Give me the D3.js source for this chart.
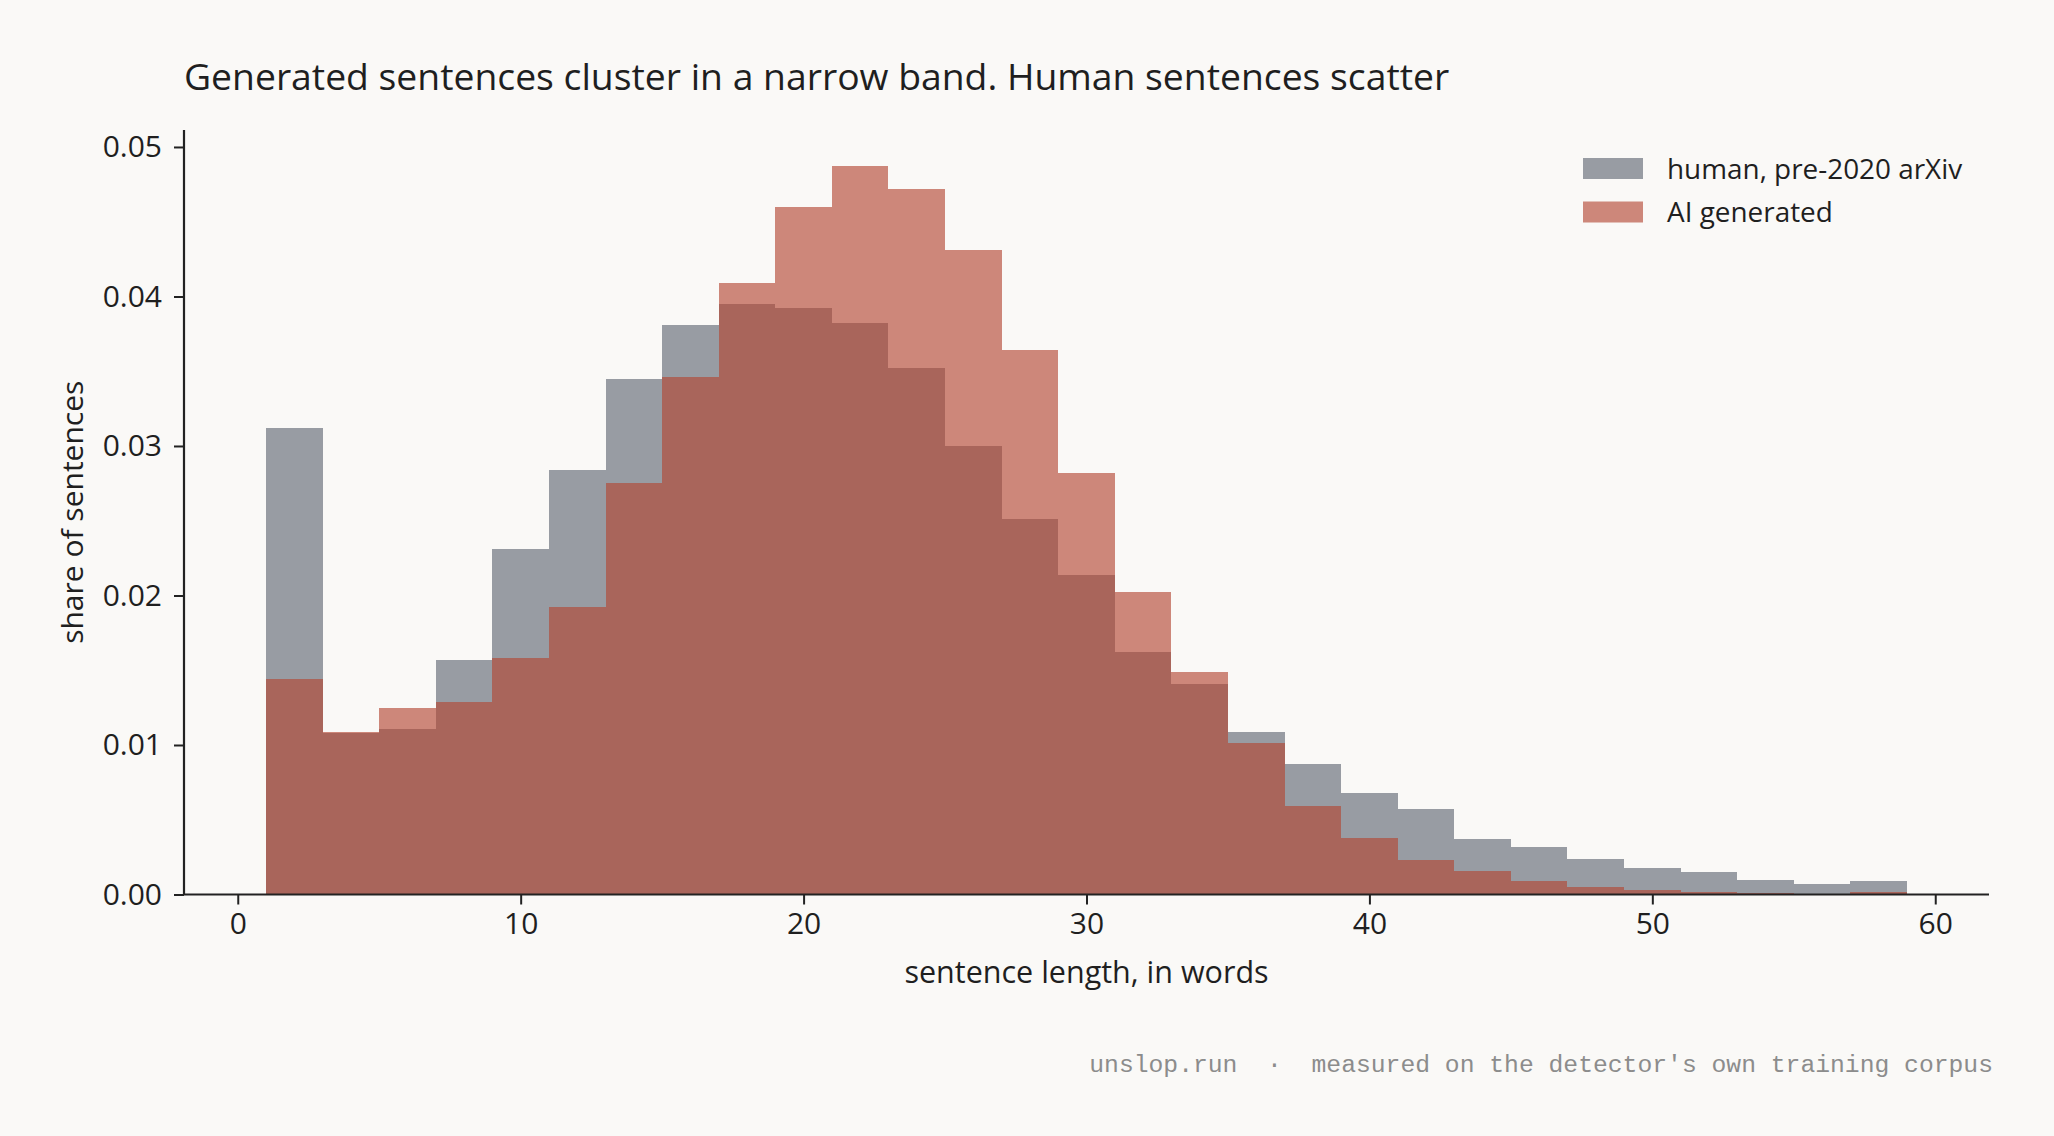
<!DOCTYPE html>
<html>
<head>
<meta charset="utf-8">
<script src="https://cdn.jsdelivr.net/npm/d3@7"></script>
<style>
  html, body { margin: 0; padding: 0; background: #faf9f7; }
  svg { display: block; }
  text { font-family: "Open Sans", "Noto Sans", sans-serif; fill: #1f1f1f; }
  text.mono { font-family: "Liberation Mono", "DejaVu Sans Mono", monospace; fill: #8c8c8c; white-space: pre; }
</style>
</head>
<body>
<svg id="chart" width="2054" height="1136"></svg>
<script>
// ---- data ----
const binStarts = [1, 3, 5, 7, 9, 11, 13, 15, 17, 19, 21, 23, 25, 27, 29, 31, 33, 35, 37, 39, 41, 43, 45, 47, 49, 51, 53, 55, 57];
const binWidth = 2;
const humanShare = [0.0312, 0.0108, 0.0111, 0.0157, 0.0231, 0.0284, 0.0345, 0.0381, 0.0395, 0.0392, 0.0382, 0.0352, 0.0300, 0.0251, 0.0214, 0.0162, 0.0141, 0.0109, 0.0087, 0.0068, 0.0057, 0.0037, 0.0032, 0.0024, 0.0018, 0.0015, 0.0010, 0.0007, 0.0009];
const aiShare = [0.0144, 0.0109, 0.0125, 0.0129, 0.0158, 0.0192, 0.0275, 0.0346, 0.0409, 0.0460, 0.0487, 0.0472, 0.0431, 0.0364, 0.0282, 0.0202, 0.0149, 0.0101, 0.0059, 0.0038, 0.0023, 0.0016, 0.0009, 0.0005, 0.0003, 0.00015, 0.0001, 0.00005, 0.00015];
const xTicks = [0, 10, 20, 30, 40, 50, 60];
const yTicks = [0.00, 0.01, 0.02, 0.03, 0.04, 0.05];
const seriesNames = ["human, pre-2020 arXiv", "AI generated"];
const titleText = "Generated sentences cluster in a narrow band. Human sentences scatter";
const xLabel = "sentence length, in words";
const yLabel = "share of sentences";
const footerText = "unslop.run  \u00b7  measured on the detector's own training corpus";

// ---- layout ----
const plot = { left: 184, right: 1989, top: 130, bottom: 894.5 };
const humanColor = "#989ca3";
const aiColor = "rgb(179,70,50)";
const aiOpacity = 0.635;

const svg = d3.select("#chart");
svg.append("rect").attr("width", 2054).attr("height", 1136).attr("fill", "#faf9f7");

const lo = d3.min(binStarts), hi = d3.max(binStarts) + binWidth;
const pad = (hi - lo) * 0.05;
const x = d3.scaleLinear().domain([lo - pad, hi + pad]).range([plot.left, plot.right]);
const yMax = d3.max([...humanShare, ...aiShare]) * 1.05;
const y = d3.scaleLinear().domain([0, yMax]).range([plot.bottom, plot.top]);

const g = svg.append("g");

// human bars
g.selectAll("rect.human").data(binStarts).join("rect")
  .attr("class", "human")
  .attr("x", d => x(d))
  .attr("width", d => x(d + binWidth) - x(d))
  .attr("y", (d, i) => y(humanShare[i]))
  .attr("height", (d, i) => y(0) - y(humanShare[i]))
  .attr("fill", humanColor)
  .attr("shape-rendering", "crispEdges");

// AI bars
g.selectAll("rect.ai").data(binStarts).join("rect")
  .attr("class", "ai")
  .attr("x", d => x(d))
  .attr("width", d => x(d + binWidth) - x(d))
  .attr("y", (d, i) => y(aiShare[i]))
  .attr("height", (d, i) => y(0) - y(aiShare[i]))
  .attr("fill", aiColor)
  .attr("fill-opacity", aiOpacity)
  .attr("shape-rendering", "crispEdges");

// axes
const xAxis = d3.axisBottom(x).tickValues(xTicks).tickFormat(d3.format("d")).tickSize(10).tickPadding(8);
const yAxis = d3.axisLeft(y).tickValues(yTicks).tickFormat(d3.format(".2f")).tickSize(10).tickPadding(12);

const gx = svg.append("g").attr("transform", `translate(0,${plot.bottom})`).call(xAxis);
const gy = svg.append("g").attr("transform", `translate(${plot.left},0)`).call(yAxis);
[gx, gy].forEach(a => {
  a.select(".domain").attr("stroke", "#222").attr("stroke-width", 2.2);
  a.selectAll(".tick line").attr("stroke", "#222").attr("stroke-width", 2);
  a.selectAll(".tick text").attr("font-family", "'Open Sans', sans-serif").attr("font-size", 30).attr("fill", "#1f1f1f");
});
gx.select(".domain").attr("d", `M${plot.left},0H${plot.right}`);
gy.select(".domain").attr("d", `M0,${plot.bottom}V${plot.top}`);

// title
svg.append("text").attr("x", 184).attr("y", 90)
  .attr("font-size", 37.3).text(titleText);

// axis labels
svg.append("text").attr("x", (plot.left + plot.right) / 2).attr("y", 983)
  .attr("text-anchor", "middle").attr("font-size", 30.5).text(xLabel);
svg.append("text")
  .attr("transform", `translate(83,${(plot.top + plot.bottom) / 2}) rotate(-90)`)
  .attr("text-anchor", "middle").attr("font-size", 30).text(yLabel);

// legend
const legend = svg.append("g").attr("transform", "translate(1583,158)");
const legendColors = [humanColor, aiColor];
const legendOpac = [1, aiOpacity];
seriesNames.forEach((name, i) => {
  const row = legend.append("g").attr("transform", `translate(0,${i * 43.5})`);
  row.append("rect").attr("width", 60).attr("height", 21)
    .attr("fill", legendColors[i]).attr("fill-opacity", legendOpac[i]);
  row.append("text").attr("x", 84).attr("y", 10.5).attr("dy", "0.36em")
    .attr("font-size", 27.9).text(name);
});

// footer
svg.append("text").attr("class", "mono").attr("x", 1993).attr("y", 1072)
  .attr("text-anchor", "end")
  .attr("font-size", 24.7)
  .attr("xml:space", "preserve")
  .text(footerText);
</script>
</body>
</html>
